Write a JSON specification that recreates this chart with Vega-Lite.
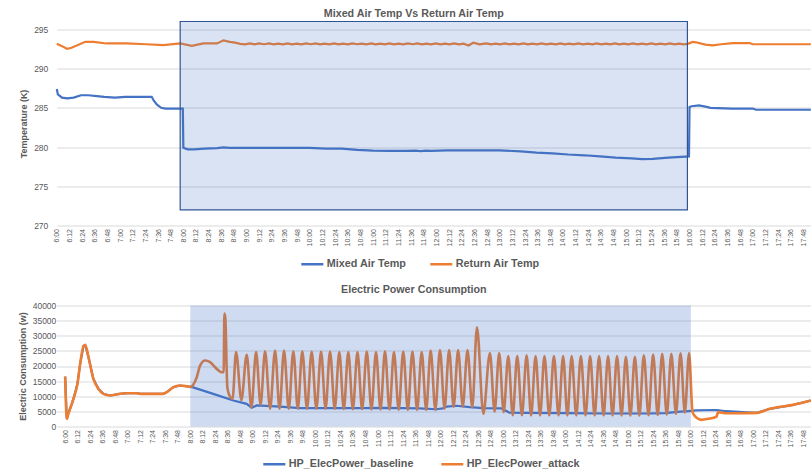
{
  "$schema": "https://vega.github.io/schema/vega-lite/v6.json",
  "background": "white",
  "padding": {"left": 17.8, "top": 7.5, "right": 0, "bottom": 0},
  "config": {
    "font": "Liberation Sans",
    "view": {"stroke": null},
    "axis": {"labelColor": "#595959", "titleColor": "#595959", "gridColor": "#D9D9D9", "gridWidth": 1, "domain": false, "ticks": false, "labelFlush": false, "labelOverlap": false},
    "legend": {"symbolType": "stroke", "symbolSize": 484, "symbolStrokeWidth": 2.5, "labelFontSize": 10.8, "labelFontWeight": "bold", "labelColor": "#595959", "labelOffset": 2, "title": null, "direction": "horizontal", "orient": "none"}
  },
  "datasets": {
    "mixed": [
      {"t":360,"v":287.4},{"t":361,"v":286.7},{"t":365,"v":286.3},{"t":370,"v":286.2},{"t":376,"v":286.3},{"t":383,"v":286.6},{"t":390,"v":286.6},{"t":398,"v":286.5},{"t":405,"v":286.4},{"t":415,"v":286.3},{"t":425,"v":286.4},{"t":440,"v":286.4},{"t":450,"v":286.4},{"t":452,"v":285.9},{"t":455,"v":285.4},{"t":459,"v":285.0},{"t":463,"v":284.9},{"t":479.5,"v":284.9},{"t":480,"v":279.9},{"t":484,"v":279.7},{"t":490,"v":279.7},{"t":500,"v":279.8},{"t":512,"v":279.85},{"t":518,"v":279.95},{"t":524,"v":279.9},{"t":560,"v":279.9},{"t":600,"v":279.9},{"t":615,"v":279.8},{"t":630,"v":279.8},{"t":645,"v":279.65},{"t":660,"v":279.55},{"t":675,"v":279.5},{"t":690,"v":279.5},{"t":700,"v":279.55},{"t":705,"v":279.48},{"t":710,"v":279.55},{"t":715,"v":279.5},{"t":730,"v":279.58},{"t":780,"v":279.58},{"t":800,"v":279.45},{"t":815,"v":279.3},{"t":830,"v":279.2},{"t":845,"v":279.05},{"t":860,"v":278.95},{"t":875,"v":278.8},{"t":890,"v":278.65},{"t":905,"v":278.55},{"t":915,"v":278.45},{"t":925,"v":278.5},{"t":940,"v":278.65},{"t":959.5,"v":278.8},{"t":960,"v":285.1},{"t":962,"v":285.2},{"t":969,"v":285.3},{"t":975,"v":285.15},{"t":980,"v":285.0},{"t":1000,"v":284.9},{"t":1020,"v":284.9},{"t":1023,"v":284.75},{"t":1075,"v":284.75}
    ],
    "ret": [
      {"t":360,"v":293.17},{"t":365,"v":292.86},{"t":369.6,"v":292.53},{"t":374,"v":292.65},{"t":387,"v":293.42},{"t":395,"v":293.4},{"t":407,"v":293.2},{"t":426,"v":293.2},{"t":445,"v":293.1},{"t":461,"v":293.0},{"t":477,"v":293.2},{"t":488,"v":292.9},{"t":499,"v":293.2},{"t":512,"v":293.2},{"t":518,"v":293.6},{"t":524,"v":293.4},{"t":529,"v":293.3},{"t":534,"v":293.15},{"t":538.6,"v":293.08},{"t":543.1,"v":293.2},{"t":547.4,"v":293.08},{"t":551.7,"v":293.2},{"t":556.5,"v":293.1},{"t":561.3,"v":293.2},{"t":565.6,"v":293.08},{"t":569.9,"v":293.18},{"t":574.4,"v":293.08},{"t":578.8,"v":293.2},{"t":583.1,"v":293.08},{"t":587.4,"v":293.18},{"t":591.9,"v":293.08},{"t":596.4,"v":293.2},{"t":600.9,"v":293.1},{"t":605.4,"v":293.2},{"t":609.7,"v":293.08},{"t":614,"v":293.18},{"t":618.5,"v":293.08},{"t":622.9,"v":293.2},{"t":627.2,"v":293.08},{"t":631.5,"v":293.18},{"t":635.9,"v":293.08},{"t":640.3,"v":293.2},{"t":644.8,"v":293.1},{"t":649.2,"v":293.18},{"t":653.7,"v":293.08},{"t":658.1,"v":293.2},{"t":662.4,"v":293.08},{"t":666.7,"v":293.18},{"t":671,"v":293.08},{"t":675.3,"v":293.2},{"t":679.8,"v":293.08},{"t":684.2,"v":293.18},{"t":688.6,"v":293.08},{"t":693,"v":293.2},{"t":697.5,"v":293.1},{"t":701.9,"v":293.2},{"t":706.2,"v":293.08},{"t":710.5,"v":293.18},{"t":715,"v":293.08},{"t":719.4,"v":293.2},{"t":723.8,"v":293.08},{"t":728.2,"v":293.18},{"t":732.5,"v":293.08},{"t":736.8,"v":293.2},{"t":741.3,"v":293.08},{"t":745.8,"v":293.18},{"t":750.4,"v":292.95},{"t":754.9,"v":293.3},{"t":761,"v":293.08},{"t":767.3,"v":293.2},{"t":771.8,"v":293.08},{"t":776.2,"v":293.18},{"t":780.5,"v":293.08},{"t":784.9,"v":293.2},{"t":789.2,"v":293.08},{"t":793.5,"v":293.18},{"t":798,"v":293.08},{"t":802.5,"v":293.2},{"t":806.8,"v":293.08},{"t":811.1,"v":293.18},{"t":815.4,"v":293.08},{"t":819.6,"v":293.2},{"t":824.2,"v":293.08},{"t":828.7,"v":293.18},{"t":833.1,"v":293.08},{"t":837.5,"v":293.2},{"t":841.6,"v":293.08},{"t":845.7,"v":293.18},{"t":850.1,"v":293.08},{"t":854.5,"v":293.2},{"t":859,"v":293.08},{"t":863.4,"v":293.18},{"t":867.7,"v":293.08},{"t":872,"v":293.2},{"t":876.3,"v":293.08},{"t":880.6,"v":293.18},{"t":884.9,"v":293.08},{"t":889.2,"v":293.2},{"t":893.5,"v":293.08},{"t":897.7,"v":293.18},{"t":902,"v":293.08},{"t":906.3,"v":293.2},{"t":910.6,"v":293.08},{"t":914.9,"v":293.18},{"t":919.4,"v":293.08},{"t":923.8,"v":293.2},{"t":928.2,"v":293.08},{"t":932.5,"v":293.18},{"t":936.9,"v":293.08},{"t":941.3,"v":293.2},{"t":945.7,"v":293.08},{"t":950.1,"v":293.18},{"t":954.2,"v":293.08},{"t":958.3,"v":293.15},{"t":963,"v":293.4},{"t":966,"v":293.35},{"t":975,"v":293.05},{"t":982,"v":292.95},{"t":990,"v":293.1},{"t":1001,"v":293.25},{"t":1017,"v":293.25},{"t":1020,"v":293.1},{"t":1075,"v":293.1}
    ],
    "topShade": [{"t": 477, "t2": 958, "v": 272, "v2": 296}],
    "baseline": [
      {"t":360,"v":16500},{"t":361.6,"v":2500},{"t":363,"v":4200},{"t":366.4,"v":7500},{"t":368,"v":9200},{"t":371.8,"v":14100},{"t":374.4,"v":20700},{"t":377.6,"v":26600},{"t":379.3,"v":26900},{"t":382.4,"v":22900},{"t":387,"v":15800},{"t":392,"v":12400},{"t":396.7,"v":10800},{"t":403,"v":10250},{"t":412.7,"v":10800},{"t":419,"v":11000},{"t":428.7,"v":11000},{"t":432,"v":10800},{"t":454,"v":10800},{"t":457.5,"v":11350},{"t":463.8,"v":13000},{"t":470,"v":13550},{"t":476.6,"v":13300},{"t":480,"v":13100},{"t":482,"v":13000},{"t":502,"v":10800},{"t":521.3,"v":8600},{"t":534,"v":7500},{"t":538.9,"v":6200},{"t":543.7,"v":6950},{"t":566,"v":6600},{"t":585,"v":6050},{"t":643,"v":6050},{"t":665,"v":6150},{"t":700,"v":6000},{"t":716,"v":5700},{"t":722,"v":6000},{"t":726,"v":6600},{"t":735,"v":6850},{"t":748,"v":6400},{"t":761,"v":6050},{"t":778,"v":6000},{"t":786,"v":4600},{"t":800,"v":4500},{"t":840,"v":4400},{"t":880,"v":4300},{"t":920,"v":4300},{"t":935,"v":4400},{"t":950,"v":4900},{"t":958,"v":5100},{"t":965,"v":5300},{"t":985,"v":5450},{"t":994,"v":5050},{"t":1010,"v":4800},{"t":1023,"v":4500},{"t":1035.7,"v":5850},{"t":1058,"v":7150},{"t":1075,"v":8600}
    ],
    "attack": [
      {"t":360,"v":16500},{"t":361.6,"v":2500},{"t":363,"v":4200},{"t":366.4,"v":7500},{"t":368,"v":9200},{"t":371.8,"v":14100},{"t":374.4,"v":20700},{"t":377.6,"v":26600},{"t":379.3,"v":26900},{"t":382.4,"v":22900},{"t":387,"v":15800},{"t":392,"v":12400},{"t":396.7,"v":10800},{"t":403,"v":10250},{"t":412.7,"v":10800},{"t":419,"v":11000},{"t":428.7,"v":11000},{"t":432,"v":10800},{"t":454,"v":10800},{"t":457.5,"v":11350},{"t":463.8,"v":13000},{"t":470,"v":13550},{"t":476.6,"v":13300},{"t":480,"v":13100},{"t":486.2,"v":16300},{"t":489.4,"v":20150},{"t":494.2,"v":21800},{"t":499,"v":21250},{"t":505.4,"v":19050},{"t":510.2,"v":17950},{"t":512,"v":17950},{"t":512.7,"v":37300},{"t":513.6,"v":35800},{"t":515.5,"v":13000},{"t":517.5,"v":10250},{"t":520.5,"v":9150},{"t":523.9,"v":24600},{"t":529,"v":8700},{"t":534.1,"v":23700},{"t":538.6,"v":6300},{"t":543.1,"v":24600},{"t":547.4,"v":7200},{"t":551.7,"v":24900},{"t":556.5,"v":5900},{"t":561.3,"v":25100},{"t":565.6,"v":5850},{"t":569.9,"v":25100},{"t":574.4,"v":5850},{"t":578.8,"v":24900},{"t":583.1,"v":5850},{"t":587.4,"v":24900},{"t":591.9,"v":5850},{"t":596.4,"v":24800},{"t":600.9,"v":5850},{"t":605.4,"v":24800},{"t":609.7,"v":5850},{"t":614,"v":24800},{"t":618.5,"v":5850},{"t":622.9,"v":24600},{"t":627.2,"v":5750},{"t":631.5,"v":24600},{"t":635.9,"v":5700},{"t":640.3,"v":24600},{"t":644.8,"v":5700},{"t":649.2,"v":24800},{"t":653.7,"v":5650},{"t":658.1,"v":24600},{"t":662.4,"v":5600},{"t":666.7,"v":24900},{"t":671,"v":5600},{"t":675.3,"v":24600},{"t":679.8,"v":5550},{"t":684.2,"v":24800},{"t":688.6,"v":5500},{"t":693,"v":24800},{"t":697.5,"v":5500},{"t":701.9,"v":24600},{"t":706.2,"v":5500},{"t":710.5,"v":25100},{"t":715,"v":5500},{"t":719.4,"v":25300},{"t":723.8,"v":5900},{"t":728.2,"v":25300},{"t":732.5,"v":6500},{"t":736.8,"v":25300},{"t":741.3,"v":6600},{"t":745.8,"v":25300},{"t":750.4,"v":6300},{"t":754.9,"v":32800},{"t":761,"v":4200},{"t":767.3,"v":24300},{"t":771.8,"v":4900},{"t":776.2,"v":24300},{"t":780.5,"v":4700},{"t":784.9,"v":23300},{"t":789.2,"v":3700},{"t":793.5,"v":23300},{"t":798,"v":3700},{"t":802.5,"v":23500},{"t":806.8,"v":3650},{"t":811.1,"v":23300},{"t":815.4,"v":3650},{"t":819.6,"v":23300},{"t":824.2,"v":3650},{"t":828.7,"v":23300},{"t":833.1,"v":3650},{"t":837.5,"v":23300},{"t":841.6,"v":3650},{"t":845.7,"v":23300},{"t":850.1,"v":3650},{"t":854.5,"v":23300},{"t":859,"v":3650},{"t":863.4,"v":23300},{"t":867.7,"v":3650},{"t":872,"v":23300},{"t":876.3,"v":3650},{"t":880.6,"v":23300},{"t":884.9,"v":3650},{"t":889.2,"v":23300},{"t":893.5,"v":3650},{"t":897.7,"v":23000},{"t":902,"v":3650},{"t":906.3,"v":23000},{"t":910.6,"v":3650},{"t":914.9,"v":23500},{"t":919.4,"v":3700},{"t":923.8,"v":23800},{"t":928.2,"v":3800},{"t":932.5,"v":24000},{"t":936.9,"v":3900},{"t":941.3,"v":24000},{"t":945.7,"v":4200},{"t":950.1,"v":24200},{"t":954.2,"v":4600},{"t":958.3,"v":24300},{"t":961.6,"v":4750},{"t":965.4,"v":2900},{"t":970.2,"v":2200},{"t":976.6,"v":2550},{"t":984.6,"v":3300},{"t":986.1,"v":4750},{"t":994.2,"v":4400},{"t":1003.8,"v":4400},{"t":1023,"v":4500},{"t":1035.7,"v":5850},{"t":1058,"v":7150},{"t":1075,"v":8600}
    ],
    "bottomShade": [{"t": 480, "t2": 960, "v": 0, "v2": 40000}]
  },
  "concat": [
    {
      "width": 754,
      "height": 204,
      "title": {"text": "Mixed Air Temp Vs Return Air Temp", "fontSize": 10.7, "fontWeight": "bold", "color": "#595959", "dx": -20, "offset": 1},
      "encoding": {
        "x": {"field": "t", "type": "quantitative", "scale": {"domain": [360, 1075], "nice": false, "zero": false},
          "axis": {"title": null, "grid": false, "tickCount": 200, "values": [360,372,384,396,408,420,432,444,456,468,480,492,504,516,528,540,552,564,576,588,600,612,624,636,648,660,672,684,696,708,720,732,744,756,768,780,792,804,816,828,840,852,864,876,888,900,912,924,936,948,960,972,984,996,1008,1020,1032,1044,1056,1068],
            "labelExpr": "floor(datum.value / 60) + ':' + (datum.value % 60 < 10 ? '0' : '') + (datum.value % 60)",
            "labelAngle": 270, "labelFontSize": 7, "labelPadding": 3, "labelOverlap": false, "labelBound": false}},
        "y": {"field": "v", "type": "quantitative", "scale": {"domain": [270, 296], "nice": false, "zero": false},
          "axis": {"title": "Temperature (K)", "titleFontSize": 9, "titleFontWeight": "bold", "titlePadding": 5, "tickCount": 50, "values": [270,275,280,285,290,295], "format": "d", "labelFontSize": 8.5, "labelPadding": 9}}
      },
      "layer": [
        {
          "data": {"name": "mixed"},
          "mark": {"type": "line", "strokeWidth": 2.2, "interpolate": "linear"},
          "encoding": {
            "color": {"datum": "Mixed Air Temp", "type": "nominal",
              "scale": {"domain": ["Mixed Air Temp", "Return Air Temp"], "range": ["#4472C4", "#ED7D31"]},
              "legend": {"legendX": 243, "legendY": 230, "columnPadding": 18}}
          }
        },
        {
          "data": {"name": "ret"},
          "mark": {"type": "line", "strokeWidth": 2.2, "interpolate": "linear"},
          "encoding": {
            "color": {"datum": "Return Air Temp", "type": "nominal"}
          }
        },
        {
          "data": {"name": "topShade"},
          "mark": {"type": "rect", "fill": "#4472C4", "fillOpacity": 0.2, "stroke": "#2F5597", "strokeWidth": 1.2},
          "encoding": {
            "x2": {"field": "t2"},
            "y2": {"field": "v2"}
          }
        }
      ]
    },
    {
      "width": 754,
      "height": 121,
      "title": {"text": "Electric Power Consumption", "fontSize": 10.7, "fontWeight": "bold", "color": "#595959", "dx": -20, "offset": 6},
      "encoding": {
        "x": {"field": "t", "type": "quantitative", "scale": {"domain": [352, 1075], "nice": false, "zero": false},
          "axis": {"title": null, "grid": false, "tickCount": 200, "values": [360,372,384,396,408,420,432,444,456,468,480,492,504,516,528,540,552,564,576,588,600,612,624,636,648,660,672,684,696,708,720,732,744,756,768,780,792,804,816,828,840,852,864,876,888,900,912,924,936,948,960,972,984,996,1008,1020,1032,1044,1056,1068],
            "labelExpr": "floor(datum.value / 60) + ':' + (datum.value % 60 < 10 ? '0' : '') + (datum.value % 60)",
            "labelAngle": 270, "labelFontSize": 7, "labelPadding": 3, "labelOverlap": false, "labelBound": false}},
        "y": {"field": "v", "type": "quantitative", "scale": {"domain": [0, 40000], "nice": false},
          "axis": {"title": "Electric Consumption (w)", "titleFontSize": 9, "titleFontWeight": "bold", "titlePadding": 5, "tickCount": 50, "values": [0,5000,10000,15000,20000,25000,30000,35000,40000], "format": "d", "labelFontSize": 8.5, "labelPadding": 1}}
      },
      "layer": [
        {
          "data": {"name": "baseline"},
          "mark": {"type": "line", "strokeWidth": 2.2, "interpolate": "linear"},
          "encoding": {
            "color": {"datum": "HP_ElecPower_baseline", "type": "nominal",
              "scale": {"domain": ["HP_ElecPower_baseline", "HP_ElecPower_attack"], "range": ["#4472C4", "#ED7D31"]},
              "legend": {"legendX": 205, "legendY": 146, "columnPadding": 22}}
          }
        },
        {
          "data": {"name": "attack"},
          "mark": {"type": "line", "strokeWidth": 2.6, "interpolate": "monotone"},
          "encoding": {
            "color": {"datum": "HP_ElecPower_attack", "type": "nominal"}
          }
        },
        {
          "data": {"name": "bottomShade"},
          "mark": {"type": "rect", "fill": "#4472C4", "fillOpacity": 0.26},
          "encoding": {
            "x2": {"field": "t2"},
            "y2": {"field": "v2"}
          }
        }
      ]
    }
  ],
  "columns": 1,
  "spacing": 14,
  "resolve": {"scale": {"color": "independent", "x": "independent", "y": "independent"}, "legend": {"color": "independent"}}
}
